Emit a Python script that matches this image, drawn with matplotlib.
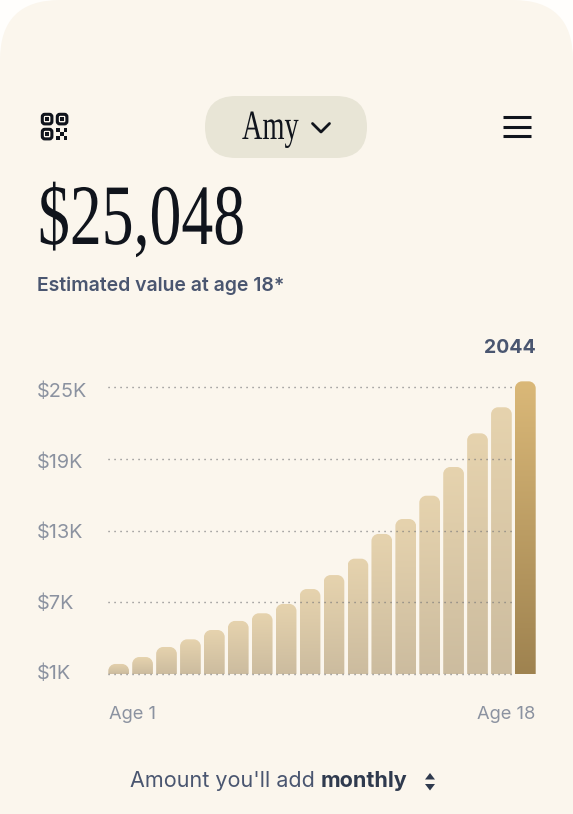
import matplotlib
matplotlib.use("Agg")
import matplotlib.pyplot as plt
import matplotlib.patheffects as pe
import numpy as np
from matplotlib.path import Path
from matplotlib.patches import PathPatch, FancyBboxPatch, Rectangle
from matplotlib.transforms import Affine2D

W, H = 573, 814

# valori, in migliaia di dollari
ages = list(range(1, 19))
values = [1.84, 2.42, 3.26, 3.90, 4.68, 5.44, 6.08, 6.86, 8.11,
          9.28, 10.65, 12.72, 13.97, 15.92, 18.32, 21.14, 23.32, 25.49]
ytick_values = [1, 7, 13, 19, 25]
ytick_labels = ["$1K", "$7K", "$13K", "$19K", "$25K"]

BG = "#fbf6ed"
INK = "#10141c"
SLATE = "#4a5670"
GREY = "#8b92a0"


class Condensed(pe.AbstractPathEffect):
    # stringe il testo in orizzontale, il font non ha una versione condensed
    def __init__(self, x0, sx):
        self.x0 = x0
        self.sx = sx

    def draw_path(self, renderer, gc, tpath, affine, rgbFace=None):
        squeeze = Affine2D().translate(-self.x0, 0).scale(self.sx, 1).translate(self.x0, 0)
        renderer.draw_path(gc, tpath, affine + squeeze, rgbFace)


def hexrgb(c):
    return np.array(matplotlib.colors.to_rgb(c))


def bar_path(x0, x1, y0, y1, rx, ry):
    # barra con solo gli angoli in alto arrotondati
    k = 0.55
    verts = [(x0, y0), (x0, y1 - ry),
             (x0, y1 - ry * (1 - k)), (x0 + rx * (1 - k), y1), (x0 + rx, y1),
             (x1 - rx, y1),
             (x1 - rx * (1 - k), y1), (x1, y1 - ry * (1 - k)), (x1, y1 - ry),
             (x1, y0), (x0, y0)]
    codes = [Path.MOVETO, Path.LINETO, Path.CURVE4, Path.CURVE4, Path.CURVE4,
             Path.LINETO, Path.CURVE4, Path.CURVE4, Path.CURVE4,
             Path.LINETO, Path.CLOSEPOLY]
    return Path(verts, codes)


fig = plt.figure(figsize=(W / 100, H / 100), dpi=100, facecolor="#fffefc")

# sfondo e icone in coordinate pixel
ui = fig.add_axes([0, 0, 1, 1])
ui.set_xlim(0, W)
ui.set_ylim(H, 0)
ui.axis("off")
ui.add_patch(FancyBboxPatch((0, 0), W, H + 80, boxstyle="round,pad=0,rounding_size=60",
                            fc=BG, ec="none", clip_on=True))
ui.add_patch(FancyBboxPatch((205, 96), 162, 62, boxstyle="round,pad=0,rounding_size=31",
                            fc="#e8e5d6", ec="none"))

# icona QR
for qx, qy in [(41, 113), (56, 113), (41, 128)]:
    ui.add_patch(FancyBboxPatch((qx + 1.3, qy + 1.3), 9.6, 9.6, boxstyle="round,pad=0,rounding_size=2.5",
                                fc="none", ec=INK, lw=2.2))
    ui.add_patch(Rectangle((qx + 4.3, qy + 4.3), 3.6, 3.6, fc=INK, ec="none"))
for qx, qy in [(56, 128), (63.5, 128), (59.7, 132), (56, 136), (63.5, 136)]:
    ui.add_patch(Rectangle((qx, qy), 3.8, 3.8, fc=INK, ec="none"))

# freccia del menu e hamburger
ui.plot([312.5, 321, 329.5], [123.5, 132, 123.5], color=INK, lw=2.0, solid_capstyle="round", solid_joinstyle="round")
for yy in [117.2, 126.5, 135.8]:
    ui.plot([503, 531], [yy, yy], color=INK, lw=2.2, solid_capstyle="butt")

# frecce su/giu
ui.fill([425, 430, 435], [779.5, 773, 779.5], color="#2f3a4e", lw=0)
ui.fill([425, 430, 435], [784, 790.5, 784], color="#2f3a4e", lw=0)

ui.text(242, 139, "Amy", family="Liberation Serif", fontsize=30, color=INK, va="baseline",
        path_effects=[Condensed(242, 0.68)])
ui.text(38, 244, "$25,048", family="Liberation Serif", fontsize=62, color=INK, va="baseline",
        path_effects=[Condensed(38, 0.74)])
ui.text(37, 291, "Estimated value at age 18*", family="Inter", fontsize=13.95, fontweight="semibold",
        color=SLATE, va="baseline")
ui.text(535.5, 353, "2044", family="Inter", fontsize=14, fontweight="bold", color=SLATE, ha="right", va="baseline")
ui.text(130, 787, "Amount you'll add ", family="Inter", fontsize=15.5, color=SLATE, va="baseline")
ui.text(407, 787, "monthly", family="Inter", fontsize=15.5, fontweight="bold", color="#2f3a4e", ha="right", va="baseline")

# grafico: l'asse copre l'area delle barre (x108-536, y370-674)
px_per_k = 11.95
pitch = (515 - 108.3) / 17
bar_w = 20.7 / pitch
top_k = 1 + (674 - 370) / px_per_k
ax = fig.add_axes([108.3 / W, 1 - 674 / H, (535.7 - 108.3) / W, (674 - 370) / H])
xlim = (ages[0] - bar_w / 2, ages[-1] + bar_w / 2)
ax.axis("off")
ax.patch.set_visible(False)

rx = 7 / pitch
ry = 7 / px_per_k
for age, val in zip(ages, values):
    last = age == ages[-1]
    left = age - bar_w / 2
    right = age + bar_w / 2
    top_c, bot_c = ("#dab878", "#9f8350") if last else ("#e6d3ae", "#ccbc9f")
    grad = np.linspace(hexrgb(top_c), hexrgb(bot_c), 64).reshape(64, 1, 3)
    im = ax.imshow(grad, extent=(left, right, 1, val), aspect="auto", zorder=2, interpolation="bilinear")
    clip = PathPatch(bar_path(left, right, 1, val, rx, ry), transform=ax.transData, fc="none", ec="none")
    ax.add_patch(clip)
    im.set_clip_path(clip)
ax.set_xlim(*xlim)
ax.set_ylim(1, top_k)

# griglia a puntini, si ferma prima dell'ultima barra
for tick in ytick_values:
    ax.plot([xlim[0], ages[-2] + bar_w / 2], [tick, tick], color="#77777a", lw=1.0, dashes=(0.8, 3.52), zorder=3,
            clip_on=False)

# le etichette non stanno proprio sulle linee: passo 70.5 px invece di 71.7
for i, lab in enumerate(ytick_labels):
    ui.text(37, 674 - i * 70.5, lab, fontsize=14.3, family="Inter", color=GREY, va="center")

ui.text(109, 719, "Age 1", family="Inter", fontsize=13.2, color=GREY, va="baseline")
ui.text(535, 719, "Age 18", family="Inter", fontsize=13.2, color=GREY, ha="right", va="baseline")

fig.savefig("out.png", dpi=100, facecolor=fig.get_facecolor())
